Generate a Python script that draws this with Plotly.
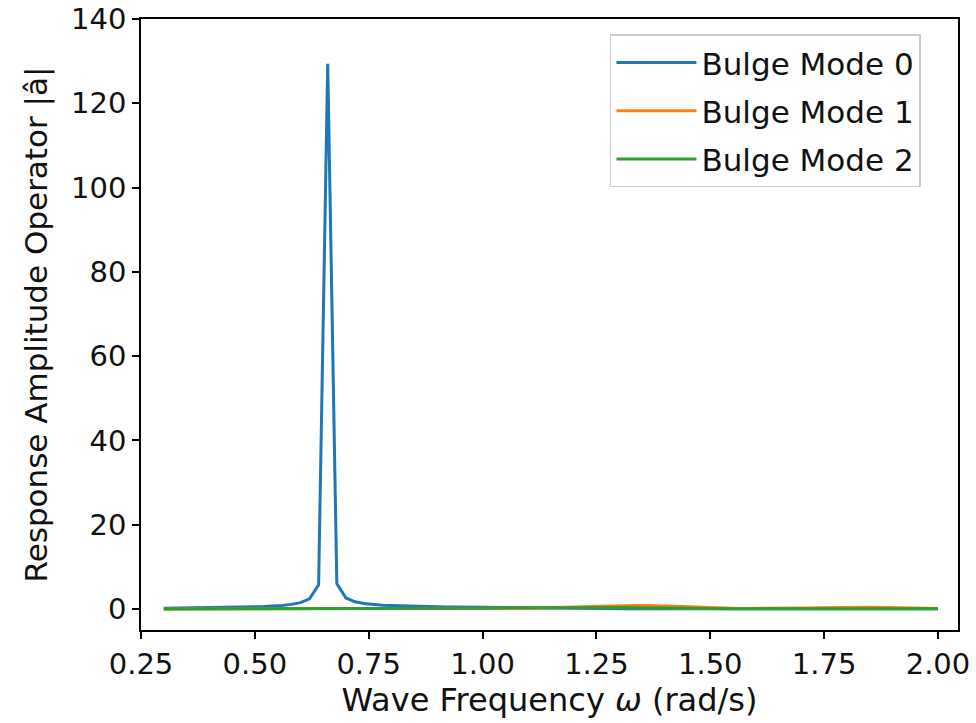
import plotly.graph_objects as go

omega = [round(0.30 + 0.02 * i, 2) for i in range(86)]

mode0 = [0.15, 0.17, 0.19, 0.21, 0.23, 0.26, 0.29, 0.33, 0.37, 0.42,
         0.49, 0.57, 0.68, 0.84, 1.08, 1.50, 2.40, 5.70, 129.4, 6.00,
         2.60, 1.70, 1.30, 1.05, 0.90, 0.80, 0.72, 0.66, 0.60, 0.56,
         0.52, 0.48, 0.45, 0.42, 0.39, 0.36, 0.33, 0.30, 0.27, 0.24,
         0.21, 0.18, 0.15, 0.12, 0.10, 0.08, 0.06, 0.05, 0.04, 0.03,
         0.03, 0.02, 0.02, 0.02, 0.02, 0.02, 0.02, 0.02, 0.02, 0.02,
         0.02, 0.02, 0.02, 0.02, 0.02, 0.02, 0.02, 0.02, 0.02, 0.02,
         0.02, 0.02, 0.02, 0.02, 0.02, 0.02, 0.02, 0.02, 0.02, 0.02,
         0.02, 0.02, 0.02, 0.02, 0.02, 0.02]

mode1 = [0.01, 0.01, 0.01, 0.01, 0.01, 0.01, 0.01, 0.01, 0.01, 0.01,
         0.01, 0.01, 0.01, 0.01, 0.02, 0.02, 0.02, 0.03, 0.05, 0.03,
         0.03, 0.03, 0.03, 0.03, 0.03, 0.04, 0.04, 0.04, 0.05, 0.05,
         0.06, 0.06, 0.07, 0.08, 0.09, 0.10, 0.11, 0.12, 0.14, 0.16,
         0.19, 0.22, 0.26, 0.30, 0.35, 0.41, 0.48, 0.55, 0.62, 0.70,
         0.76, 0.80, 0.82, 0.82, 0.80, 0.74, 0.66, 0.56, 0.46, 0.37,
         0.29, 0.22, 0.17, 0.13, 0.11, 0.10, 0.10, 0.11, 0.12, 0.14,
         0.17, 0.21, 0.26, 0.31, 0.36, 0.40, 0.42, 0.42, 0.38, 0.32,
         0.25, 0.19, 0.15, 0.12, 0.10, 0.09]

mode2 = [0.01, 0.01, 0.01, 0.01, 0.01, 0.01, 0.01, 0.01, 0.01, 0.01,
         0.01, 0.01, 0.02, 0.02, 0.02, 0.02, 0.03, 0.03, 0.04, 0.03,
         0.03, 0.03, 0.04, 0.04, 0.05, 0.05, 0.06, 0.07, 0.08, 0.09,
         0.10, 0.11, 0.12, 0.14, 0.15, 0.17, 0.19, 0.21, 0.23, 0.25,
         0.27, 0.29, 0.31, 0.33, 0.35, 0.37, 0.38, 0.39, 0.39, 0.38,
         0.36, 0.33, 0.29, 0.25, 0.21, 0.17, 0.14, 0.11, 0.09, 0.07,
         0.06, 0.05, 0.05, 0.05, 0.05, 0.05, 0.06, 0.06, 0.07, 0.08,
         0.09, 0.10, 0.11, 0.11, 0.11, 0.10, 0.09, 0.08, 0.07, 0.06,
         0.05, 0.05, 0.04, 0.04, 0.03, 0.03]

names = ["Bulge Mode 0", "Bulge Mode 1", "Bulge Mode 2"]
colors = ["#1f77b4", "#ff7f0e", "#2ca02c"]
x_ticks = [0.25, 0.50, 0.75, 1.00, 1.25, 1.50, 1.75, 2.00]
y_ticks = [0, 20, 40, 60, 80, 100, 120, 140]

fig = go.Figure()
for i, (name, vals, col) in enumerate(zip(names, [mode0, mode1, mode2], colors)):
    fig.add_trace(go.Scatter(x=omega, y=vals, mode="lines", name=name,
                             legendgroup=f"g{i}",
                             line=dict(color=col, width=3)))

axis_common = dict(showgrid=False, zeroline=False, showline=True, mirror=True,
                   linecolor="black", linewidth=1.5, ticks="outside",
                   ticklen=7, tickwidth=1.5, tickcolor="black",
                   tickfont=dict(family="DejaVu Sans", size=29, color="#111111"))

fig.update_layout(
    width=976, height=723,
    margin=dict(l=141, r=18, t=19, b=93),
    paper_bgcolor="white", plot_bgcolor="white",
    font=dict(family="DejaVu Sans", color="#111111"),
    xaxis=dict(range=[0.25, 2.044], tickvals=x_ticks,
               ticktext=[f"{v:.2f}" for v in x_ticks],
               title=dict(text="Wave Frequency <i>ω</i> (rad/s)",
                          font=dict(size=32), standoff=4),
               automargin=False,
               **axis_common),
    yaxis=dict(range=[-5, 140], tickvals=y_ticks,
               title=dict(text="Response Amplitude Operator |â|",
                          font=dict(size=31), standoff=14),
               automargin=False,
               **axis_common),
    legend=dict(x=0.574, y=0.975, xanchor="left", yanchor="top",
                bgcolor="white", bordercolor="#cccccc", borderwidth=1.5,
                font=dict(family="DejaVu Sans", size=31, color="#111111"),
                itemwidth=80, tracegroupgap=5),
    showlegend=True,
)

fig.write_html("out.html")
